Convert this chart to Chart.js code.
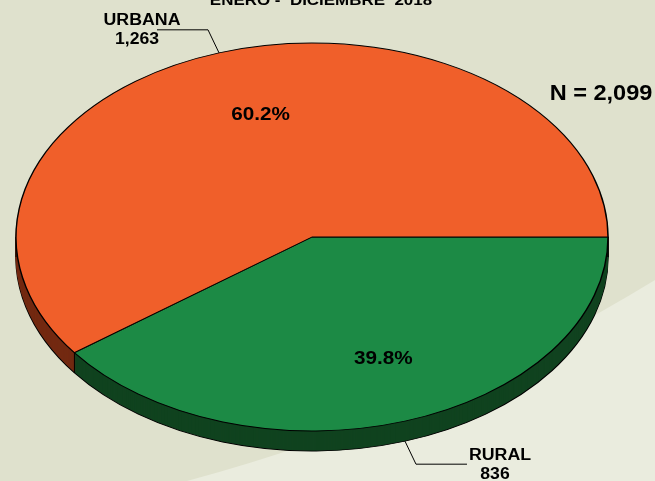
<!DOCTYPE html>
<html>
<head>
<meta charset="utf-8">
<script src="https://cdn.jsdelivr.net/npm/chart.js@4"></script>
<style>
  html, body { margin: 0; padding: 0; background: #dfe1cd; }
  body { width: 655px; height: 481px; overflow: hidden; }
  canvas { display: block; }
</style>
</head>
<body>
<canvas id="grafico" width="655" height="481"></canvas>
<script>
const categorias = ["RURAL", "URBANA"];
const casos = [836, 1263];
const colores = ["#1c8a45", "#f05f2a"];
const coloresLado = ["#10431f", "#732a12"];
const titulo = "ENERO -  DICIEMBRE  2018";
const total = casos.reduce((a, b) => a + b, 0);

const escalaY = 194 / 296; // aplastar el circulo en elipse
const grosor = 20;          // alto del lado 3D
const fuente = '"Liberation Sans", Arial, sans-serif';

function texto(ctx, t, x, y, size, sx) {
  ctx.save();
  ctx.font = "bold " + size + "px " + fuente;
  ctx.fillStyle = "#000";
  ctx.textAlign = "center";
  ctx.textBaseline = "middle";
  ctx.translate(x, y);
  ctx.scale(sx, 1);
  ctx.fillText(t, 0, 0);
  ctx.restore();
}

function aplastar(ctx, cx, cy, dy) {
  ctx.translate(cx, cy + dy);
  ctx.scale(1, escalaY);
  ctx.translate(-cx, -cy);
}

// fondo con la franja clara abajo a la derecha
const fondo = {
  id: "fondo",
  beforeDraw(chart) {
    const ctx = chart.ctx;
    ctx.save();
    ctx.fillStyle = "#dfe1cd";
    ctx.fillRect(0, 0, chart.width, chart.height);
    ctx.fillStyle = "#eaecde";
    ctx.beginPath();
    ctx.moveTo(655, 280);
    ctx.quadraticCurveTo(436, 414, 187, 481);
    ctx.lineTo(655, 481);
    ctx.closePath();
    ctx.fill();
    ctx.restore();
  },
};

const pie3d = {
  id: "pie3d",
  beforeDatasetsDraw(chart) {
    const ctx = chart.ctx;
    const meta = chart.getDatasetMeta(0);
    const cx = meta.data[0].x, cy = meta.data[0].y;
    const R = meta.data[0].outerRadius;

    // capas oscuras del lado
    for (let d = grosor; d > 0; d--) {
      ctx.save();
      aplastar(ctx, cx, cy, d);
      meta.data.forEach((arc, i) => {
        const guardado = arc.options;
        arc.options = Object.assign({}, guardado, {
          backgroundColor: coloresLado[i],
          borderColor: d === grosor ? "#000" : coloresLado[i],
          borderWidth: d === grosor ? 1.4 : 0.5,
        });
        arc.draw(ctx);
        arc.options = guardado;
      });
      ctx.restore();
    }

    // bordes verticales del lado
    ctx.save();
    ctx.strokeStyle = "#000";
    ctx.lineWidth = 1;
    const bordes = [Math.PI, 0];
    meta.data.forEach((arc) => bordes.push(arc.endAngle));
    bordes.forEach((a) => {
      const x = cx + R * Math.cos(a);
      const y = cy + R * escalaY * Math.sin(a);
      if (Math.sin(a) >= -0.001) {
        ctx.beginPath();
        ctx.moveTo(x, y);
        ctx.lineTo(x, y + grosor);
        ctx.stroke();
      }
    });
    ctx.restore();

    // cara superior (la dibuja Chart.js)
    ctx.save();
    aplastar(ctx, cx, cy, 0);
  },
  afterDatasetsDraw(chart) {
    const ctx = chart.ctx;
    ctx.restore();
    const meta = chart.getDatasetMeta(0);
    const cx = meta.data[0].x, cy = meta.data[0].y;
    const R = meta.data[0].outerRadius;

    texto(ctx, titulo, 321, 1, 15, 1.13);
    texto(ctx, "N = " + total.toLocaleString("en-US"), 601, 94, 22, 1.07);

    meta.data.forEach((arc, i) => {
      const m = (arc.startAngle + arc.endAngle) / 2;
      const c = Math.cos(m), s = Math.sin(m);
      const pct = (casos[i] / total * 100).toFixed(1) + "%";
      texto(ctx, pct, cx + 0.66 * R * c + 10, cy + 0.66 * R * escalaY * s, 18, 1.15);

      // linea guia y etiqueta
      const dx = c < 0 ? -1 : 1, dy = s < 0 ? -1 : 1;
      const px = cx + R * c;
      const py = cy + R * escalaY * s + (s > 0 ? grosor : 0);
      const ex = px + 11 * dx, ey = py + 23 * dy;
      const fx = ex + 51 * dx;
      ctx.save();
      ctx.strokeStyle = "#000";
      ctx.lineWidth = 1;
      ctx.beginPath();
      ctx.moveTo(px, py);
      ctx.lineTo(ex, ey);
      ctx.lineTo(fx, ey);
      ctx.stroke();
      ctx.restore();
      const tx = dx < 0 ? fx - 15 : fx + 33;
      texto(ctx, categorias[i], tx, ey - 9, 16, 1.11);
      texto(ctx, casos[i].toLocaleString("en-US"), tx - 5, ey + 10, 16, 1.1);
    });
  },
};

new Chart(document.getElementById("grafico"), {
  type: "pie",
  data: {
    labels: categorias,
    datasets: [
      {
        data: casos,
        backgroundColor: colores,
        borderColor: "#000",
        borderWidth: 1.4,
        clip: false,
      },
    ],
  },
  options: {
    responsive: false,
    animation: false,
    events: [],
    rotation: 90,
    radius: 296,
    layout: { padding: { left: 0, right: 31, top: 0, bottom: 7 } },
    plugins: {
      legend: { display: false },
      tooltip: { enabled: false },
    },
  },
  plugins: [fondo, pie3d],
});
</script>
</body>
</html>
